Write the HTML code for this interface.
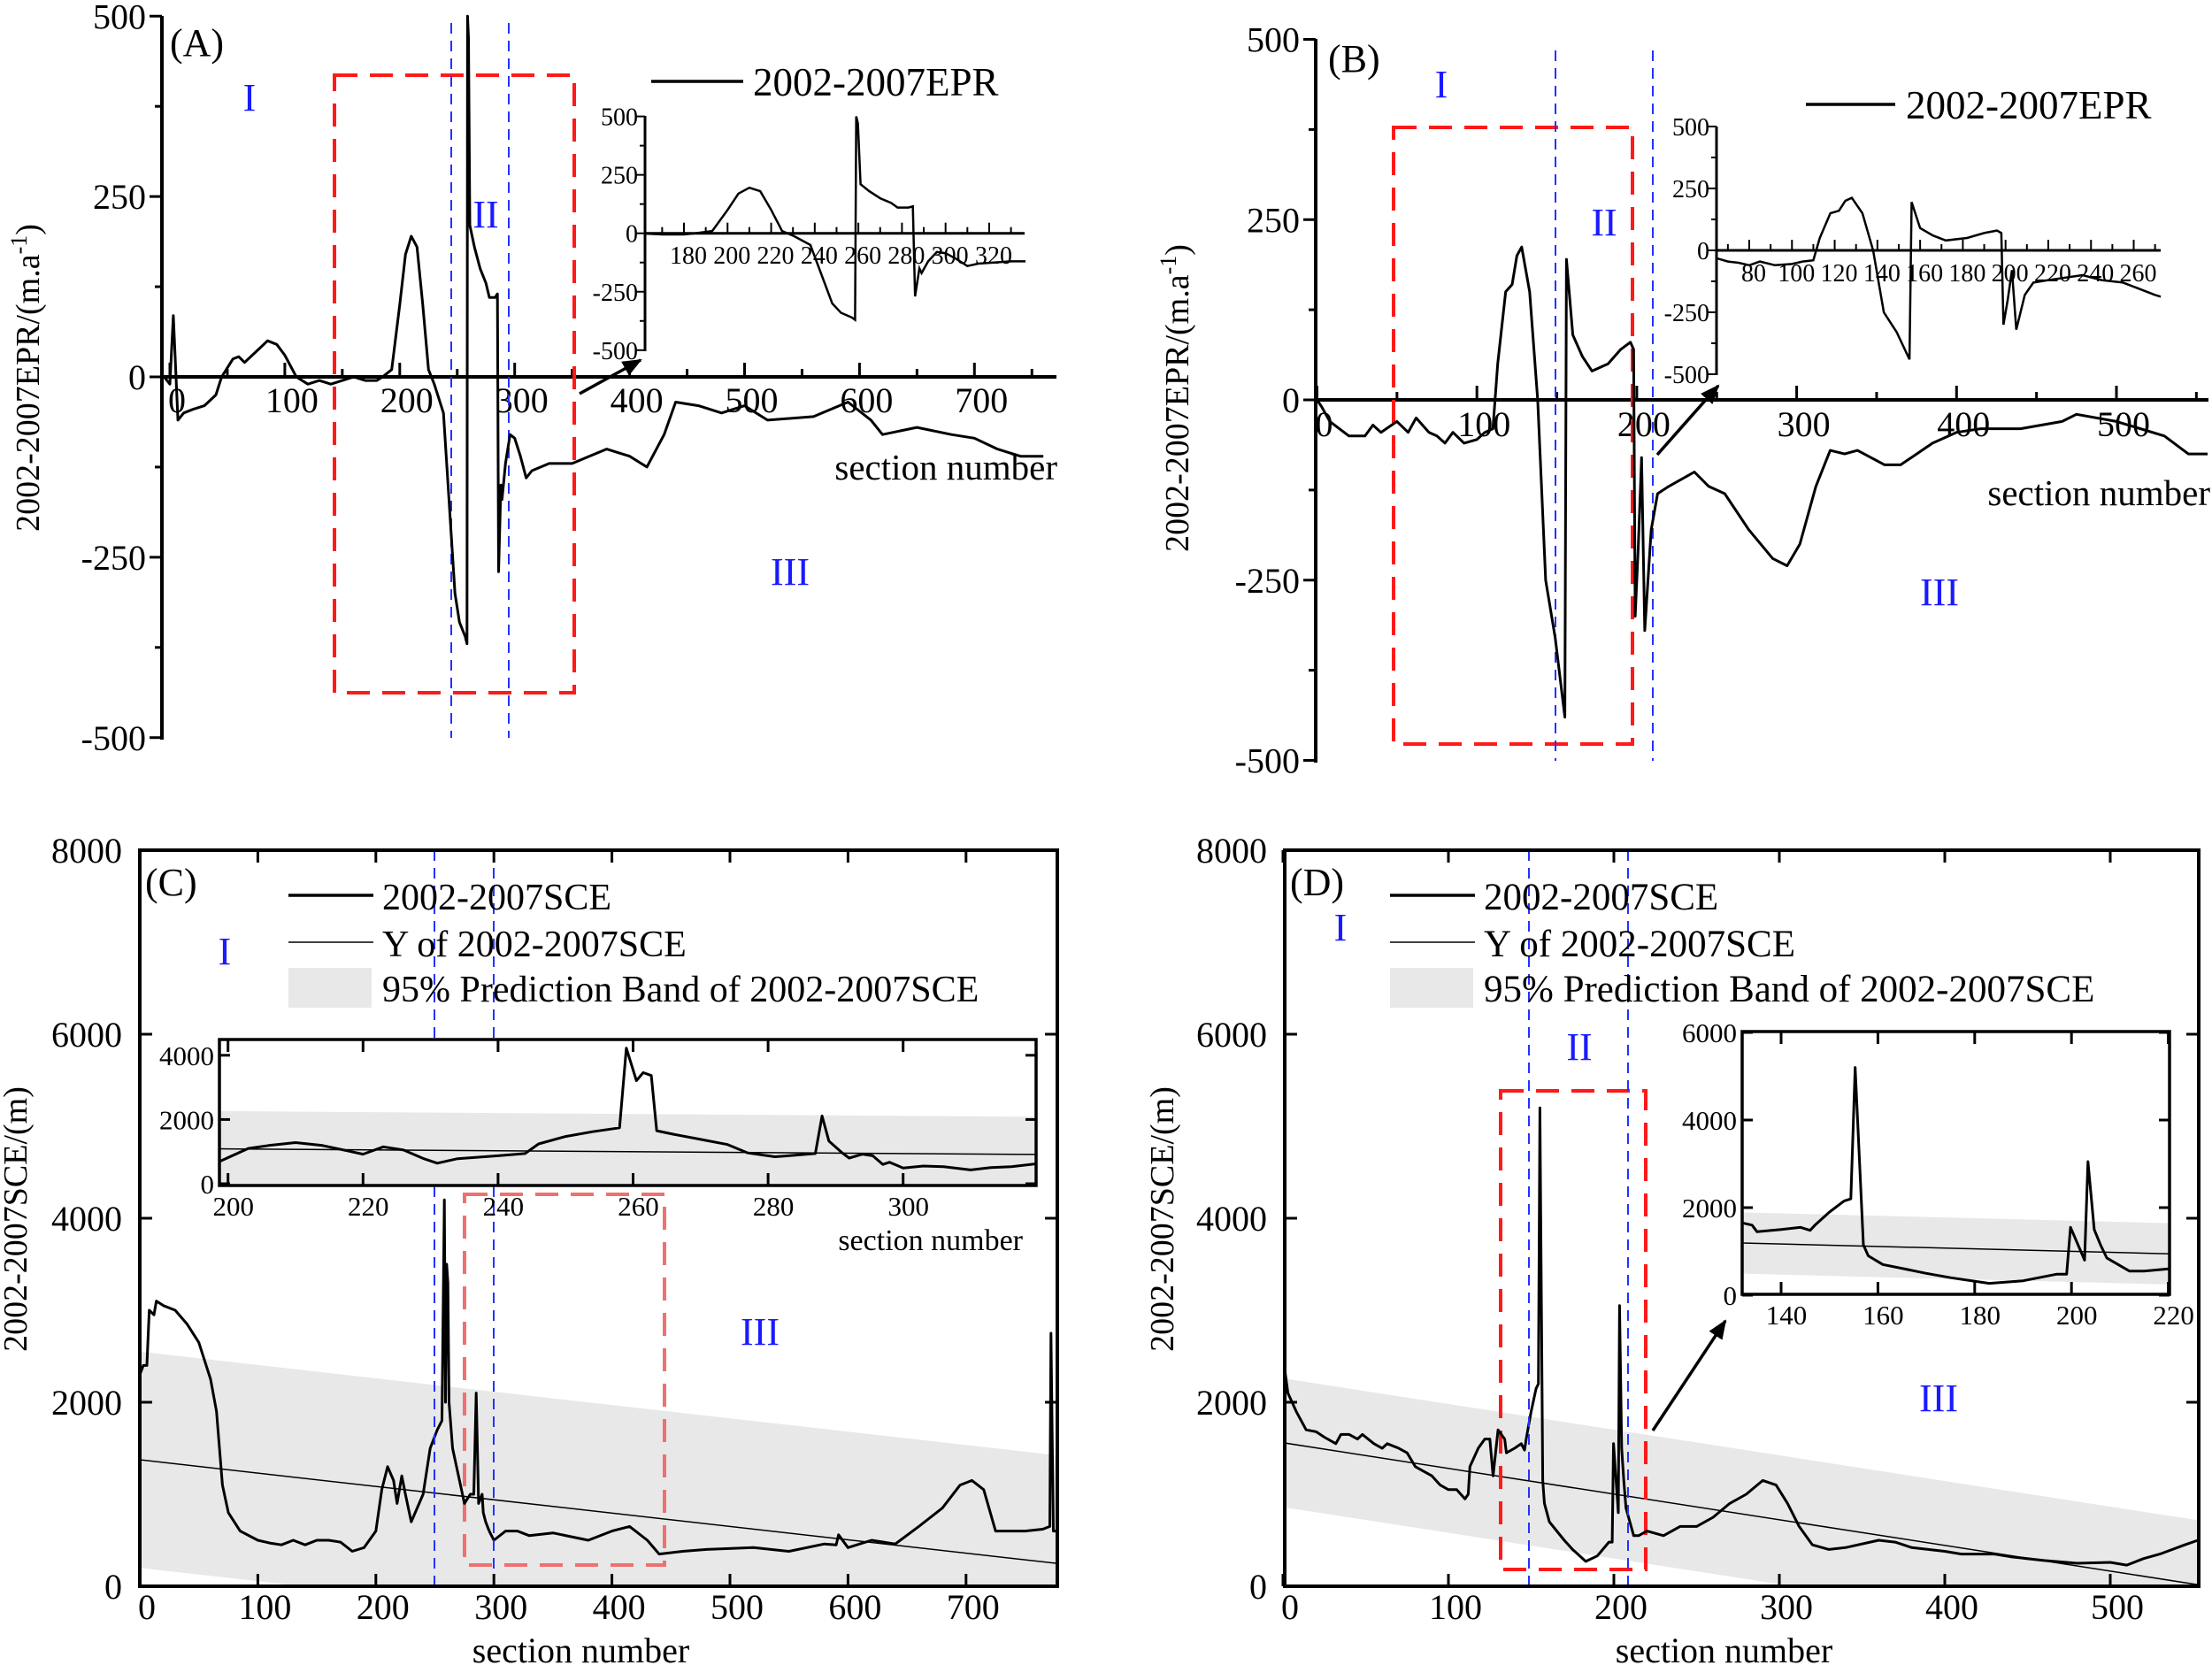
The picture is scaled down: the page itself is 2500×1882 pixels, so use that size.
<!DOCTYPE html>
<html><head><meta charset="utf-8"><style>
html,body{margin:0;padding:0;background:#fff}
svg{display:block}
text{font-family:"Liberation Serif",serif;fill:#000}
</style></head><body>
<svg id="fig" width="2500" height="1882" viewBox="0 0 2500 1882" xmlns="http://www.w3.org/2000/svg">
<defs>
<clipPath id="clipC"><rect x="158" y="961" width="1037" height="832"/></clipPath>
<clipPath id="clipD"><rect x="1452" y="961" width="1033" height="832"/></clipPath>
<clipPath id="clipCi"><rect x="248" y="1175" width="923" height="166"/></clipPath>
<clipPath id="clipDi"><rect x="1969" y="1166" width="483" height="297"/></clipPath>
<clipPath id="clipAi"><rect x="729" y="120" width="430" height="290"/></clipPath>
<clipPath id="clipBi"><rect x="1940" y="130" width="502" height="300"/></clipPath>
<marker id="arr" markerWidth="22" markerHeight="18" refX="20" refY="9" orient="auto" markerUnits="userSpaceOnUse"><path d="M0,0 L22,9 L0,18 z" fill="#000"/></marker>
</defs>
</svg>
<script>
// ---------- data ----------
const secA = [-5,0,3,7,12,20,30,40,45,55,60,65,75,85,93,100,110,120,130,140,150,160,170,180,185,193,200,205,210,215,220,225,230,238,244,248,252,257,258.5,259,259.8,261,265,270,275,278,283,285,286,288,289,292,296,300,305,310,315,330,350,380,400,415,430,440,460,480,500,520,560,590,610,620,650,680,700,720,740,760];
const eprA = [0,-10,85,-60,-50,-45,-40,-25,0,25,28,20,35,50,45,30,0,-10,-5,-10,-5,0,-5,-5,0,10,100,170,195,180,100,10,-10,-50,-200,-300,-340,-360,-370,500,470,210,180,150,130,110,110,115,-270,-150,-170,-120,-80,-85,-110,-140,-130,-120,-120,-100,-110,-125,-80,-35,-40,-50,-40,-60,-55,-35,-60,-80,-70,-80,-85,-100,-110,-110];
const secB = [0,3,8,20,30,35,40,50,57,62,70,75,80,85,92,100,105,110,113,118,122,125,128,133,138,143,149,155,156,160,166,172,182,190,196,198,199,201,203,205,209,213,220,236,245,255,270,285,294,302,312,321,330,338,355,365,385,400,415,440,466,475,500,530,545,557];
const eprB = [0,-10,-30,-50,-50,-35,-45,-30,-45,-25,-45,-50,-60,-45,-60,-55,-45,-40,50,150,160,200,212,150,0,-250,-330,-440,195,90,60,40,50,70,80,70,-300,-200,-80,-320,-180,-130,-120,-100,-120,-130,-180,-220,-230,-200,-120,-70,-75,-70,-90,-90,-60,-45,-40,-40,-30,-20,-30,-50,-75,-75];
const secC = [0,3,6,8,12,14,20,30,40,50,60,65,70,75,85,100,110,120,130,140,150,160,170,180,190,200,205,210,215,218,222,225,230,240,246,252,256,258,259,260,261,262,265,270,275,280,283,285,287,290,291,293,296,300,310,320,330,350,380,400,415,430,440,460,480,520,550,580,590,592,600,620,640,660,680,695,705,715,725,750,765,771,772,774,777];
const sceC = [2300,2400,2400,3000,2950,3100,3050,3000,2850,2650,2250,1900,1100,800,600,500,470,450,500,450,500,500,480,380,420,600,1050,1300,1150,900,1200,1000,700,1000,1500,1700,1800,4200,2000,3500,3300,2000,1500,1200,900,1000,1000,2100,900,1000,800,700,600,500,600,600,550,580,500,600,650,500,350,380,400,420,380,460,450,560,420,500,460,650,850,1100,1150,1050,600,600,620,650,2750,600,600];
const secCi = [198.7,203,206,210,214,218,220,223,226,229,231,234,240,244,246,250,254,258,259,260.5,261.5,262.7,263.5,266,270,274,277,281,283,287,288,289,291,292,294,295.5,297,298,300,303,306,310,313,316,319.7];
const sceCi = [690,1100,1190,1280,1190,1010,920,1150,1050,780,640,780,870,940,1240,1470,1620,1740,4220,3210,3460,3370,1650,1540,1380,1220,960,840,870,940,2110,1330,960,800,920,870,600,670,490,550,530,430,500,530,620];
const secD = [0,3,8,14,20,25,32,35,40,45,48,55,60,63,70,75,80,85,90,95,100,105,110,112,113,118,122,125,127,130,132,134,135,140,144,146,147,150,153,154.4,155.3,157,158,161,170,175,183,190,197,199,199.8,202.7,203.4,204.7,206,207.3,212,215,220,230,240,250,260,270,280,290,298,305,312,320,330,340,360,370,380,400,410,430,440,460,480,500,510,520,530,545,553];
const sceD = [2500,2100,1900,1700,1680,1620,1550,1650,1650,1600,1650,1550,1500,1550,1500,1450,1300,1250,1200,1100,1050,1050,950,1000,1300,1500,1600,1600,1200,1700,1650,1600,1450,1500,1550,1480,1600,1900,2150,2200,5200,1150,900,700,500,400,270,330,480,480,1550,800,3050,1500,1150,850,550,550,600,550,650,650,750,900,1000,1150,1100,900,650,450,400,420,500,480,420,380,350,350,320,280,250,260,230,300,350,450,500];
// regression: [intercept, slope, half-band]
const regC = [1375, -1.45, 1175];
const regD = [1560, -2.79, 700];
const ticksAx = [0,100,200,300,400,500,600,700];
const ticksAy = [-500,-250,0,250,500];
const ticksAix = [180,200,220,240,260,280,300,320];
const ticksAiy = [-500,-250,0,250,500];
const ticksBx = [0,100,200,300,400,500];
const ticksBy = [-500,-250,0,250,500];
const ticksBix = [80,100,120,140,160,180,200,220,240,260];
const ticksBiy = [-500,-250,0,250,500];
const ticksCx = [0,100,200,300,400,500,600,700];
const ticksCy = [0,2000,4000,6000,8000];
const ticksCix = [200,220,240,260,280,300];
const ticksCiy = [0,2000,4000];
const ticksDx = [0,100,200,300,400,500];
const ticksDy = [0,2000,4000,6000,8000];
const ticksDix = [140,160,180,200,220];
const ticksDiy = [0,2000,4000,6000];

// ---------- helpers ----------
const NS = "http://www.w3.org/2000/svg";
const svg = document.getElementById('fig');
function mk(tag, attrs, parent){ const e=document.createElementNS(NS,tag); for(const k in attrs) e.setAttribute(k,attrs[k]); (parent||svg).appendChild(e); return e; }
function grp(name){ const g=mk('g',{});   return g; }
function pathOf(xs,ys,sx,sy){ return xs.map((x,i)=>(i?'L':'M')+sx(x).toFixed(1)+','+sy(ys[i]).toFixed(1)).join(''); }
function txt(g,x,y,s,size,anchor,fill){ const t=mk('text',{x:x,y:y,'font-size':size,'text-anchor':anchor||'start'},g); if(fill) t.setAttribute('style','fill:'+fill); t.textContent=s; return t; }
function lineEl(g,x1,y1,x2,y2,w,col,dash){ const l=mk('line',{x1:x1,y1:y1,x2:x2,y2:y2,stroke:col||'#000','stroke-width':w},g); if(dash) l.setAttribute('stroke-dasharray',dash); return l; }

// ======== Panel A ========
(function(){
 const g=grp('panel-a');
 const sx=v=>192+v*1.299, sy=v=>426-v*0.8155;
 const ax=grp('panel-a-axes'); g.appendChild(ax);
 lineEl(ax,183,18,183,836,4);
 lineEl(ax,181,426,1194,426,4);
 for(let v=-500; v<=500; v+=125){ const L=(v%250===0)?14:8; lineEl(ax,183-L,sy(v),183,sy(v),3); }
 ticksAy.forEach(v=>{ const t=txt(ax,165,sy(v)+14,String(v),40,'end');   });
 for(let v=0; v<=750; v+=50){ const L=(v%100===0)?16:9; lineEl(ax,sx(v),426-L,sx(v),426,3); }
 ticksAx.forEach(v=>{ const t=txt(ax,sx(v)+8,466,String(v),40,'middle');   });
 const xt=txt(g,1195,542,'section number',41,'end');  
 const yt=txt(g,0,0,'2002-2007EPR/(m.a',38,'middle'); yt.setAttribute('transform','translate(44,427) rotate(-90)');
 const sup=mk('tspan',{dy:-14,'font-size':26},yt); sup.textContent='-1'; const cl=mk('tspan',{dy:14},yt); cl.textContent=')';
  
 const rr=mk('rect',{x:378,y:85,width:271,height:698,fill:'none',stroke:'#ff1a1a','stroke-width':4,'stroke-dasharray':'26,14'},g);
  
 const b1=lineEl(g,510,26,510,834,2,'#2233ff','12,8');  
 const b2=lineEl(g,575,26,575,834,2,'#2233ff','12,8');  
 const c=mk('path',{d:pathOf(secA,eprA,sx,sy),fill:'none',stroke:'#000','stroke-width':3,'stroke-linejoin':'round'},g);
  
 const ig=grp('panel-a-inset'); g.appendChild(ig);
 const isx=v=>773+(v-180)*2.464, isy=v=>263.7-v*0.2642;
 mk('rect',{x:731,y:120,width:430,height:280,fill:'#fff'},ig);
 lineEl(ig,729,131,729,397,3); lineEl(ig,728,263.7,1158,263.7,3);
 for(let v=-500; v<=500; v+=125){ const L=(v%250===0)?10:6; lineEl(ig,729-L,isy(v),729,isy(v),2); }
 ticksAiy.forEach(v=>{ const t=txt(ig,721,isy(v)+10,String(v),28,'end');   });
 for(let v=170; v<=330; v+=10){ const L=(v%20===0)?12:7; lineEl(ig,isx(v),263.7-L,isx(v),263.7,2); }
 ticksAix.forEach(v=>{ const t=txt(ig,isx(v)+5,298,String(v),28,'middle');   });
 const ic=mk('path',{d:pathOf(secA,eprA,isx,isy),fill:'none',stroke:'#000','stroke-width':2.5,'clip-path':'url(#clipAi)'},ig);
  
 const ar=mk('line',{x1:655,y1:445,x2:724,y2:407,stroke:'#000','stroke-width':3.5,'marker-end':'url(#arr)'},g);
  
 const lg=grp('legend'); g.appendChild(lg);
 lineEl(lg,736,92,840,92,3.5); txt(lg,851,108,'2002-2007EPR',45);
 txt(g,192,63,'(A)',44);
 const z1=txt(g,282,125,'I',44,'middle','#1a1aff');  
 const z2=txt(g,549,257,'II',44,'middle','#1a1aff');  
 const z3=txt(g,893,661,'III',44,'middle','#1a1aff');  
})();

// ======== Panel B ========
(function(){
 const g=grp('panel-b');
 const sx=v=>1488.5+v*1.807, sy=v=>452-v*0.815;
 const ax=grp('panel-b-axes'); g.appendChild(ax);
 lineEl(ax,1487,44,1487,862,4);
 lineEl(ax,1485,452,2496,452,4);
 for(let v=-500; v<=500; v+=125){ const L=(v%250===0)?14:8; lineEl(ax,1487-L,sy(v),1487,sy(v),3); }
 ticksBy.forEach(v=>{ const t=txt(ax,1469,sy(v)+14,String(v),40,'end');   });
 for(let v=0; v<=550; v+=50){ const L=(v%100===0)?16:9; lineEl(ax,sx(v),452-L,sx(v),452,3); }
 ticksBx.forEach(v=>{ const t=txt(ax,sx(v)+8,493,String(v),40,'middle');   });
 const xt=txt(g,2498,571,'section number',41,'end');  
 const yt=txt(g,0,0,'2002-2007EPR/(m.a',38,'middle'); yt.setAttribute('transform','translate(1343,450) rotate(-90)');
 const sup=mk('tspan',{dy:-14,'font-size':26},yt); sup.textContent='-1'; const cl=mk('tspan',{dy:14},yt); cl.textContent=')';
  
 const rr=mk('rect',{x:1575,y:144,width:270,height:697,fill:'none',stroke:'#ff1a1a','stroke-width':4,'stroke-dasharray':'26,14'},g);
  
 const b1=lineEl(g,1758,57,1758,860,2,'#2233ff','12,8');  
 const b2=lineEl(g,1868,57,1868,860,2,'#2233ff','12,8');  
 const c=mk('path',{d:pathOf(secB,eprB,sx,sy),fill:'none',stroke:'#000','stroke-width':3,'stroke-linejoin':'round'},g);
  
 const ig=grp('panel-b-inset'); g.appendChild(ig);
 const isx=v=>1977+(v-80)*2.414, isy=v=>283-v*0.28;
 lineEl(ig,1940,143,1940,424,3); lineEl(ig,1939,283,2442,283,3);
 for(let v=-500; v<=500; v+=125){ const L=(v%250===0)?10:6; lineEl(ig,1940-L,isy(v),1940,isy(v),2); }
 ticksBiy.forEach(v=>{ const t=txt(ig,1932,isy(v)+10,String(v),28,'end');   });
 for(let v=70; v<=270; v+=10){ const L=(v%20===0)?12:7; lineEl(ig,isx(v),283-L,isx(v),283,2); }
 ticksBix.forEach(v=>{ const t=txt(ig,isx(v)+5,318,String(v),28,'middle');   });
 const ic=mk('path',{d:pathOf(secB,eprB,isx,isy),fill:'none',stroke:'#000','stroke-width':2.5,'clip-path':'url(#clipBi)'},ig);
  
 const ar=mk('line',{x1:1873,y1:514,x2:1942,y2:436,stroke:'#000','stroke-width':3.5,'marker-end':'url(#arr)'},g);
  
 const lg=grp('legend'); g.appendChild(lg);
 lineEl(lg,2041,118,2142,118,3.5); txt(lg,2154,134,'2002-2007EPR',45);
 txt(g,1501,81,'(B)',44);
 const z1=txt(g,1629,110,'I',44,'middle','#1a1aff');  
 const z2=txt(g,1813,266,'II',44,'middle','#1a1aff');  
 const z3=txt(g,2192,684,'III',44,'middle','#1a1aff');  
})();

// ======== SCE panels ========
function scePanel(o){
 const g=grp(o.name);
 const sx=o.sx, sy=v=>1793-v*0.104;
 const reg=o.reg;
 const x0=0, x1=o.xmax;
 const bandPts=[[x0,reg[0]+reg[1]*x0+reg[2]],[x1,reg[0]+reg[1]*x1+reg[2]],[x1,reg[0]+reg[1]*x1-reg[2]],[x0,reg[0]+reg[1]*x0-reg[2]]];
 const band=mk('polygon',{points:bandPts.map(p=>sx(p[0])+','+sy(p[1])).join(' '),fill:'#e8e8e8','clip-path':'url(#'+o.clip+')'},g);
  
 const fit=mk('line',{x1:sx(x0),y1:sy(reg[0]+reg[1]*x0),x2:sx(x1),y2:sy(reg[0]+reg[1]*x1),stroke:'#000','stroke-width':1.5,'clip-path':'url(#'+o.clip+')'},g);
  
 const rr=mk('rect',{x:o.red[0],y:o.red[1],width:o.red[2],height:o.red[3],fill:'none',stroke:o.redCol,'stroke-width':4,'stroke-dasharray':'26,14'},g);
  
 const c=mk('path',{d:pathOf(o.xs,o.ys,sx,sy),fill:'none',stroke:'#000','stroke-width':3,'stroke-linejoin':'round','clip-path':'url(#'+o.clip+')'},g);
  
 const b1=lineEl(g,o.blue[0],961,o.blue[0],1793,2,'#2233ff','12,8');  
 const b2=lineEl(g,o.blue[1],961,o.blue[1],1793,2,'#2233ff','12,8');  
 const ax=grp(o.name+'-axes'); g.appendChild(ax);
 mk('rect',{x:o.fx,y:961,width:o.fw,height:832,fill:'none',stroke:'#000','stroke-width':4},ax);
 o.ticksY.forEach(v=>{ lineEl(ax,o.fx,sy(v),o.fx+14,sy(v),3); lineEl(ax,o.fx+o.fw-14,sy(v),o.fx+o.fw,sy(v),3);
   const t=txt(ax,o.fx-20,sy(v)+14,String(v),40,'end');   });
 o.ticksX.forEach(v=>{ lineEl(ax,sx(v),1793,sx(v),1779,3); lineEl(ax,sx(v),961,sx(v),975,3);
   const t=txt(ax,sx(v)+8,1830,String(v),40,'middle');   });
 const xt=txt(g,o.fx+o.fw/2-20,1879,'section number',40,'middle');  
 const yt=txt(g,0,0,'2002-2007SCE/(m)',38,'middle'); yt.setAttribute('transform','translate('+o.ytx+',1378) rotate(-90)');
  
 const lg=grp('legend'); g.appendChild(lg);
 const lx=o.leg;
 lineEl(lg,lx,1012,lx+96,1012,3.5); txt(lg,lx+106,1028,'2002-2007SCE',o.lf);
 lineEl(lg,lx,1065,lx+96,1065,1.5); txt(lg,lx+106,1081,'Y of 2002-2007SCE',o.lf);
 mk('rect',{x:lx,y:1094,width:94,height:45,fill:'#e8e8e8'},lg); txt(lg,lx+106,1132,'95% Prediction Band of 2002-2007SCE',o.lf);
 txt(g,o.fx+6,1012,o.label,44);
 const z1=txt(g,o.z[0][0],o.z[0][1],'I',44,'middle','#1a1aff');  
 const z2=txt(g,o.z[1][0],o.z[1][1],'II',44,'middle','#1a1aff');  
 const z3=txt(g,o.z[2][0],o.z[2][1],'III',44,'middle','#1a1aff');  
 return g;
}
function sceInset(g,o){
 const ig=grp(o.name); g.appendChild(ig);
 const isx=o.sx, isy=o.sy, reg=o.reg;
 mk('rect',{x:o.f[0],y:o.f[1],width:o.f[2],height:o.f[3],fill:'#fff'},ig);
 const a=o.dom[0], b=o.dom[1];
 const bp=[[a,reg[0]+reg[1]*a+reg[2]],[b,reg[0]+reg[1]*b+reg[2]],[b,reg[0]+reg[1]*b-reg[2]],[a,reg[0]+reg[1]*a-reg[2]]];
 const band=mk('polygon',{points:bp.map(p=>isx(p[0])+','+isy(p[1])).join(' '),fill:'#e8e8e8','clip-path':'url(#'+o.clip+')'},ig);
  
 const fl=mk('line',{x1:isx(a),y1:isy(reg[0]+reg[1]*a),x2:isx(b),y2:isy(reg[0]+reg[1]*b),stroke:'#000','stroke-width':1.5,'clip-path':'url(#'+o.clip+')'},ig);
  
 const c=mk('path',{d:pathOf(o.xs,o.ys,isx,isy),fill:'none',stroke:'#000','stroke-width':3,'stroke-linejoin':'round','clip-path':'url(#'+o.clip+')'},ig);
  
 mk('rect',{x:o.f[0],y:o.f[1],width:o.f[2],height:o.f[3],fill:'none',stroke:'#000','stroke-width':3.5},ig);
 o.ty.forEach(v=>{ lineEl(ig,o.f[0],isy(v),o.f[0]+12,isy(v),3); lineEl(ig,o.f[0]+o.f[2]-12,isy(v),o.f[0]+o.f[2],isy(v),3);
   const t=txt(ig,o.f[0]-6,isy(v)+11,String(v),31,'end');   });
 o.tx.forEach(v=>{ lineEl(ig,isx(v),o.f[1],isx(v),o.f[1]+14,3); lineEl(ig,isx(v),o.f[1]+o.f[3]-14,isx(v),o.f[1]+o.f[3],3);
   const t=txt(ig,isx(v)+6,o.f[1]+o.f[3]+34,String(v),31,'middle');   });
 if(o.title){ const t=txt(ig,o.title[0],o.title[1],'section number',34,'end');   }
}

const gC = scePanel({name:'panel-c',sx:v=>158+v*1.334,xmax:777,reg:regC,clip:'clipC',xs:secC,ys:sceC,
  red:[525,1350,226,419],redCol:'#f07070',blue:[491,558],fx:158,fw:1037,ticksX:ticksCx,ticksY:ticksCy,ytx:30,leg:326,lf:42,label:'(C)',
  z:[[254,1090],[522,1234],[859,1520]]});
sceInset(gC,{name:'panel-c-inset',sx:v=>257.7+(v-200)*7.63,sy:v=>1338-v*0.0363,reg:regC,dom:[198,321],clip:'clipCi',
  xs:secCi,ys:sceCi,f:[248,1175,923,165],ty:ticksCiy,tx:ticksCix,title:[1156,1413]});
const gD = scePanel({name:'panel-d',sx:v=>1450+v*1.87,xmax:553,reg:regD,clip:'clipD',xs:secD,ys:sceD,
  red:[1696,1233,164,541],redCol:'#ff1a1a',blue:[1728,1840],fx:1452,fw:1033,ticksX:ticksDx,ticksY:ticksDy,ytx:1326,leg:1571,lf:43,label:'(D)',
  z:[[1515,1063],[1785,1198],[2191,1595]]});
sceInset(gD,{name:'panel-d-inset',sx:v=>2013+(v-140)*5.47,sy:v=>1464-v*0.0495,reg:regD,dom:[130,222],clip:'clipDi',
  xs:secD,ys:sceD,f:[1969,1166,483,297],ty:ticksDiy,tx:ticksDix,title:null});
const arD=mk('line',{x1:1868,y1:1617,x2:1950,y2:1493,stroke:'#000','stroke-width':3.5,'marker-end':'url(#arr)'},gD);


</script>
</body></html>
